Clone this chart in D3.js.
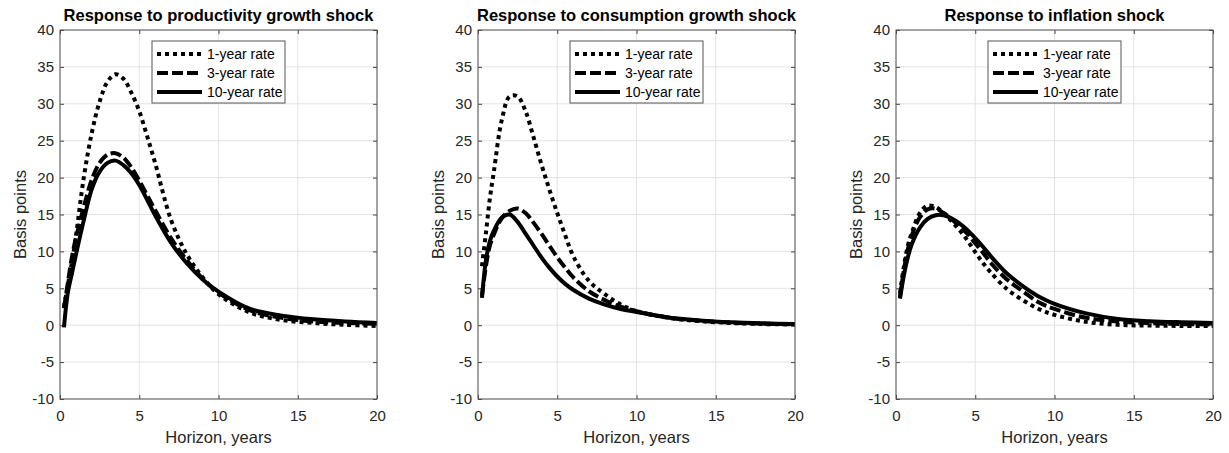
<!DOCTYPE html>
<html>
<head>
<meta charset="utf-8">
<script src="https://cdn.jsdelivr.net/npm/d3@7"></script>
<style>
  html, body { margin: 0; padding: 0; background: #fff; }
  svg { display: block; }
  text { font-family: "Liberation Sans", Arial, Helvetica, sans-serif; }
</style>
</head>
<body>
<svg id="chart" width="1229" height="453"></svg>
<script>
// ---- data ----
const horizons = [0.25,0.5,0.75,1,1.5,2,2.5,3,3.5,4,4.5,5,5.5,6,7,8,9,10,12,14,16,18,20];
const seriesNames = ["1-year rate", "3-year rate", "10-year rate"];
const panelTitles = [
  "Response to productivity growth shock",
  "Response to consumption growth shock",
  "Response to inflation shock"
];
// productivity growth shock
const prod1y  = [2.5,5.5,8.5,12,20,26,30.3,33,34,33.4,31.5,29,25.6,22,14.3,9.6,6.5,4.2,1.7,0.7,0.3,0.05,-0.1];
const prod3y  = [2.3,5.8,9.2,11.8,16,19.7,22,23.1,23.3,22.7,21.4,19.6,17.6,15.6,11.8,8.8,6.3,4.4,2.0,1.0,0.5,0.3,0.2];
const prod10y = [-0.3,4.5,7,9.5,14.2,18.4,20.8,22,22.3,21.7,20.6,19,17,14.9,11.2,8.4,6.2,4.55,2.2,1.3,0.8,0.5,0.3];
// consumption growth shock
const cons1y  = [8,12.5,17.2,20.8,27.8,31,31,29,25.5,21.8,18.4,15.2,12.2,9.4,6,4.2,2.8,1.9,1.0,0.55,0.3,0.15,0.1];
const cons3y  = [4,8,10.8,12.3,14.5,15.5,15.8,15.2,13.9,12.4,10.8,9.2,7.8,6.5,4.6,3.4,2.5,1.9,1.05,0.6,0.35,0.2,0.1];
const cons10y = [3.7,8.8,11.4,12.8,14.6,15,14,12.4,10.8,9.2,7.8,6.6,5.6,4.8,3.6,2.8,2.2,1.8,1.05,0.65,0.4,0.25,0.15];
// inflation shock
const infl1y  = [4.3,8,10.8,12.5,15.2,16.2,16,15.2,14.1,12.9,11.5,9.9,8.4,7.1,4.9,3.4,2.2,1.4,0.45,0.05,-0.05,-0.1,-0.1];
const infl3y  = [3.8,7.5,10.3,12.2,14.6,15.7,15.8,15.2,14.4,13.4,12.4,11.1,9.8,8.4,6.2,4.6,3.1,2.2,1.0,0.5,0.28,0.15,0.1];
const infl10y = [3.6,6.8,9.2,11,13.2,14.4,14.9,14.9,14.5,13.8,12.9,11.8,10.6,9.3,7,5.3,3.9,2.9,1.6,0.85,0.55,0.4,0.3];

const xTicks = [0, 5, 10, 15, 20];
const yTicks = [-10, -5, 0, 5, 10, 15, 20, 25, 30, 35, 40];
const xLabel = "Horizon, years";
const yLabel = "Basis points";

const panels = [
  { title: panelTitles[0], series: [prod1y, prod3y, prod10y] },
  { title: panelTitles[1], series: [cons1y, cons3y, cons10y] },
  { title: panelTitles[2], series: [infl1y, infl3y, infl10y] }
];

// ---- styles ----
const dashes = ["4,4", "11,4", null];
const lineW = 4;
const panelLefts = [60, 478, 896];
const plotW = 317, plotTop = 30, plotBottom = 399;

const svg = d3.select("#chart");
const plainFmt = d => String(d);   // ASCII hyphen-minus, as in the reference

panels.forEach((p, pi) => {
  const left = panelLefts[pi];
  const x = d3.scaleLinear().domain([0, 20]).range([left, left + plotW]);
  const y = d3.scaleLinear().domain([-10, 40]).range([plotBottom, plotTop]);
  const g = svg.append("g");

  // grid
  g.append("g").selectAll("line").data(xTicks).join("line")
    .attr("x1", d => x(d)).attr("x2", d => x(d))
    .attr("y1", plotTop).attr("y2", plotBottom)
    .attr("stroke", "#e3e3e3").attr("stroke-width", 1);
  g.append("g").selectAll("line").data(yTicks).join("line")
    .attr("x1", left).attr("x2", left + plotW)
    .attr("y1", d => y(d)).attr("y2", d => y(d))
    .attr("stroke", "#e3e3e3").attr("stroke-width", 1);

  // axes (ticks inside)
  const xAxisB = d3.axisBottom(x).tickValues(xTicks).tickFormat(plainFmt).tickSizeInner(-4).tickSizeOuter(0).tickPadding(11);
  const xAxisT = d3.axisTop(x).tickValues(xTicks).tickSizeInner(-4).tickSizeOuter(0).tickFormat("");
  const yAxisL = d3.axisLeft(y).tickValues(yTicks).tickFormat(plainFmt).tickSizeInner(-4).tickSizeOuter(0).tickPadding(6);
  const yAxisR = d3.axisRight(y).tickValues(yTicks).tickSizeInner(-4).tickSizeOuter(0).tickFormat("");

  const styleAxis = sel => {
    sel.select(".domain").remove();
    sel.selectAll(".tick line").attr("stroke", "#444").attr("stroke-width", 1);
    sel.selectAll(".tick text").attr("fill", "#262626")
      .style("font-size", "15px").style("font-family", '"Liberation Sans", Arial, sans-serif');
  };
  g.append("g").attr("transform", `translate(0,${plotBottom})`).call(xAxisB).call(styleAxis);
  g.append("g").attr("transform", `translate(0,${plotTop})`).call(xAxisT).call(styleAxis);
  g.append("g").attr("transform", `translate(${left},0)`).call(yAxisL).call(styleAxis);
  g.append("g").attr("transform", `translate(${left + plotW},0)`).call(yAxisR).call(styleAxis);

  // clip
  const clipId = "clip" + pi;
  svg.append("clipPath").attr("id", clipId).append("rect")
    .attr("x", left).attr("y", plotTop).attr("width", plotW).attr("height", plotBottom - plotTop);

  // lines
  const line = d3.line()
    .x((d, i) => x(horizons[i]))
    .y(d => y(d))
    .curve(d3.curveCatmullRom.alpha(0.5));
  p.series.forEach((s, si) => {
    g.append("path")
      .attr("clip-path", `url(#${clipId})`)
      .attr("d", line(s))
      .attr("fill", "none")
      .attr("stroke", "#000")
      .attr("stroke-width", lineW)
      .attr("stroke-dasharray", dashes[si])
      .attr("stroke-linecap", "butt")
      .attr("stroke-linejoin", "round");
  });

  // frame
  g.append("rect").attr("x", left).attr("y", plotTop)
    .attr("width", plotW).attr("height", plotBottom - plotTop)
    .attr("fill", "none").attr("stroke", "#555").attr("stroke-width", 1);

  // title
  g.append("text").attr("x", left + plotW / 2).attr("y", 21)
    .attr("text-anchor", "middle").attr("font-weight", "bold")
    .style("font-size", "16.5px").attr("fill", "#000").text(p.title);

  // axis labels
  g.append("text").attr("x", left + plotW / 2).attr("y", 443)
    .attr("text-anchor", "middle").style("font-size", "16.5px").attr("fill", "#262626").text(xLabel);
  g.append("text")
    .attr("transform", `translate(${left - 40},${(plotTop + plotBottom) / 2}) rotate(-90)`)
    .attr("text-anchor", "middle").attr("dy", "0.35em")
    .style("font-size", "16.5px").attr("fill", "#262626").text(yLabel);

  // legend
  const lgW = 133, lgH = 62;
  const lgX = left + plotW / 2 - lgW / 2, lgY = plotTop + 11;
  const lg = g.append("g").attr("transform", `translate(${lgX},${lgY})`);
  lg.append("rect").attr("width", lgW).attr("height", lgH)
    .attr("fill", "#fff").attr("stroke", "#555").attr("stroke-width", 1);
  seriesNames.forEach((name, si) => {
    const ry = 13 + si * 19;
    lg.append("line").attr("x1", 5).attr("x2", 50).attr("y1", ry).attr("y2", ry)
      .attr("stroke", "#000").attr("stroke-width", lineW)
      .attr("stroke-dasharray", dashes[si]);
    lg.append("text").attr("x", 55).attr("y", ry).attr("dy", "0.35em")
      .style("font-size", "14px").attr("fill", "#000").text(name);
  });
});
</script>
</body>
</html>
